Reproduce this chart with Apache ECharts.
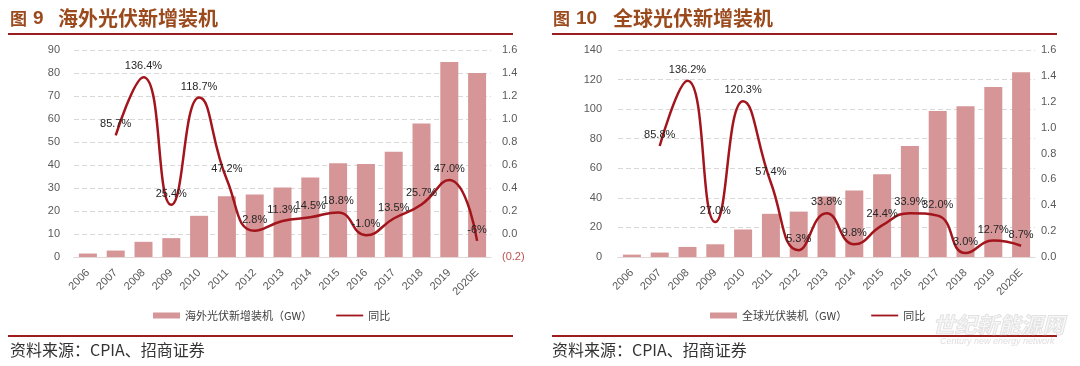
<!DOCTYPE html>
<html>
<head>
<meta charset="utf-8">
<script src="https://cdn.jsdelivr.net/npm/echarts@6/dist/echarts.min.js"></script>
<style>
html,body{margin:0;padding:0;background:#fff;}
#c{width:1080px;height:366px;}
</style>
</head>
<body>
<div id="c"></div>
<script>
// ---- data ----
const years = ['2006','2007','2008','2009','2010','2011','2012','2013','2014','2015','2016','2017','2018','2019','2020E'];

const overseasGW = [1.5, 2.8, 6.6, 8.2, 17.9, 26.4, 27.2, 30.2, 34.6, 40.8, 40.4, 45.8, 58.0, 84.8, 80.0];
const overseasYoY = [null, 0.857, 1.364, 0.254, 1.187, 0.472, 0.028, 0.113, 0.145, 0.188, -0.010, 0.135, 0.257, 0.470, -0.06];
const overseasYoYLabels = ['', '85.7%', '136.4%', '25.4%', '118.7%', '47.2%', '2.8%', '11.3%', '14.5%', '18.8%', '-1.0%', '13.5%', '25.7%', '47.0%', '-6%'];

const globalGW = [1.6, 3.0, 6.8, 8.6, 18.6, 29.2, 30.7, 41.0, 45.0, 56.0, 75.0, 98.8, 102.0, 115.0, 125.0];
const globalYoY = [null, 0.858, 1.362, 0.270, 1.203, 0.574, 0.053, 0.338, 0.098, 0.244, 0.339, 0.320, 0.030, 0.127, 0.087];
const globalYoYLabels = ['', '85.8%', '136.2%', '27.0%', '120.3%', '57.4%', '5.3%', '33.8%', '9.8%', '24.4%', '33.9%', '32.0%', '3.0%', '12.7%', '8.7%'];

const title1 = ['图', '9', '海外光伏新增装机'];
const title2 = ['图', '10', '全球光伏新增装机'];
const name1Bar = '海外光伏新增装机（GW）';
const name2Bar = '全球光伏装机（GW）';
const nameLine = '同比';
const sourceText = '资料来源：CPIA、招商证券';

// ---- styles ----
const BAR = '#d69596';
const LINE = '#a3151c';
const RULE = '#9b1d1d';
const TITLE = '#9a4a1c';
const AXIS_TXT = '#595959';
const GRID_LINE = '#d9d9d9';
const NUMFONT = 'Liberation Sans, Arial, sans-serif';
const CJK = '"Noto Sans CJK SC", sans-serif';

function rightFmt(v) {
  if (v < -1e-9) return '{neg|(' + Math.abs(v).toFixed(1) + ')}';
  return Math.abs(v) < 1e-9 ? '0.0' : v.toFixed(1);
}

function xAxis(gi) {
  return {
    type: 'category', gridIndex: gi, data: years,
    axisLine: { show: true, lineStyle: { color: '#e3d6d6', width: 1 } },
    axisTick: { show: false },
    axisLabel: { rotate: 45, fontSize: 11, color: AXIS_TXT, fontFamily: NUMFONT, margin: 14, interval: 0 }
  };
}
function leftAxis(gi, max, interval, margin) {
  return {
    type: 'value', gridIndex: gi, min: 0, max: max, interval: interval, position: 'left',
    axisLine: { show: false }, axisTick: { show: false },
    axisLabel: { fontSize: 11, color: AXIS_TXT, fontFamily: NUMFONT, margin: margin },
    splitLine: { show: true, lineStyle: { color: GRID_LINE, type: [5, 3], width: 1 } }
  };
}
function rightAxis(gi, min, margin) {
  return {
    type: 'value', gridIndex: gi, min: min, max: 1.6, interval: 0.2, position: 'right',
    axisLine: { show: false }, axisTick: { show: false },
    axisLabel: { fontSize: 11, color: AXIS_TXT, fontFamily: NUMFONT, margin: margin,
      formatter: rightFmt, rich: { neg: { color: '#c0504d', fontSize: 11, fontFamily: NUMFONT } } },
    splitLine: { show: false }
  };
}
function barSeries(name, data, xi, yi) {
  return { name: name, type: 'bar', xAxisIndex: xi, yAxisIndex: yi, data: data,
    barWidth: 18, itemStyle: { color: BAR }, z: 2 };
}
function lineSeries(data, labels, xi, yi) {
  return { name: nameLine, type: 'line', xAxisIndex: xi, yAxisIndex: yi, data: data,
    smooth: 0.5, symbol: 'circle', symbolSize: 1, showSymbol: true, connectNulls: false,
    lineStyle: { color: LINE, width: 2.5 }, itemStyle: { color: 'rgba(0,0,0,0)' }, z: 3,
    label: { show: true, position: 'top', distance: 5, fontSize: 11, color: '#262626', fontFamily: NUMFONT,
      formatter: p => labels[p.dataIndex] }
  };
}
function legend(left, barName) {
  return {
    left: left, top: 310, orient: 'horizontal', padding: 0, itemGap: 24,
    itemWidth: 27, itemHeight: 6,
    textStyle: { fontSize: 11, color: '#404040', fontFamily: CJK },
    data: [
      { name: barName, icon: 'rect', itemStyle: { color: BAR } },
      { name: nameLine, icon: 'path://M0,0h30v2h-30z', itemStyle: { color: LINE } }
    ]
  };
}
function titleGraphics(x0, parts, numX, textX) {
  return [
    { type: 'text', left: x0, top: 10, style: { text: parts[0], font: 'bold 17px ' + CJK, fill: TITLE } },
    { type: 'text', left: numX, top: 9, style: { text: parts[1], font: 'bold 19px ' + NUMFONT, fill: TITLE } },
    { type: 'text', left: textX, top: 8, style: { text: parts[2], font: 'bold 20px ' + CJK, fill: TITLE } }
  ];
}
function rule(x1, x2, y) {
  return { type: 'line', shape: { x1: x1, y1: y, x2: x2, y2: y }, style: { stroke: RULE, lineWidth: 2 } };
}

const chart = echarts.init(document.getElementById('c'), null, { renderer: 'canvas' });
chart.setOption({
  animation: false,
  backgroundColor: '#ffffff',
  grid: [
    { left: 74, right: 1080 - 491, top: 50, bottom: 109, containLabel: false },
    { left: 618, right: 1080 - 1035, top: 50, bottom: 109, containLabel: false }
  ],
  xAxis: [xAxis(0), xAxis(1)],
  yAxis: [leftAxis(0, 90, 10, 14), rightAxis(0, -0.2, 11), leftAxis(1, 140, 20, 16), rightAxis(1, 0, 6)],
  legend: [legend(153, name1Bar), legend(710, name2Bar)],
  series: [
    barSeries(name1Bar, overseasGW, 0, 0),
    lineSeries(overseasYoY, overseasYoYLabels, 0, 1),
    barSeries(name2Bar, globalGW, 1, 2),
    lineSeries(globalYoY, globalYoYLabels, 1, 3)
  ],
  graphic: [].concat(
    titleGraphics(10, title1, 33, 58),
    titleGraphics(553, title2, 576, 613),
    [
      rule(8, 513, 34), rule(552, 1057, 34),
      rule(8, 513, 336), rule(552, 1057, 336),
      { type: 'text', left: 10, top: 342, style: { text: sourceText, font: '16px ' + CJK, fill: '#333333' } },
      { type: 'text', left: 552, top: 342, style: { text: sourceText, font: '16px ' + CJK, fill: '#333333' } },
      { type: 'text', left: 932, top: 313, z: 100, style: { text: '世纪新能源网', font: 'italic bold 22px ' + CJK, fill: 'rgba(230,230,230,0.3)', stroke: 'rgba(185,185,185,0.4)', lineWidth: 1 } },
      { type: 'text', left: 940, top: 337, z: 100, style: { text: 'Century new energy network', font: 'italic 9px ' + NUMFONT, fill: 'rgba(190,190,190,0.5)' } }
    ]
  )
});
</script>
</body>
</html>
